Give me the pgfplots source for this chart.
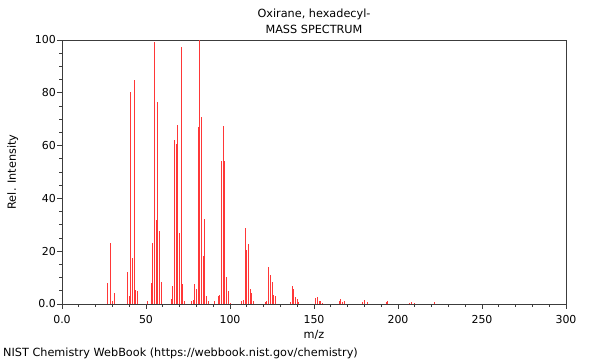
\documentclass[border=0pt]{standalone}
\usepackage{pgfplots}
\pgfplotsset{compat=1.18}
\usepackage{fontspec}
\setmainfont{DejaVu Sans}
\definecolor{peak}{RGB}{255,55,55}
\definecolor{axc}{RGB}{60,60,60}
\begin{document}
\begin{tikzpicture}
\fontsize{11.3}{13.5}\selectfont
\path[use as bounding box] (-62bp,-56bp) rectangle (538bp,304bp);
\begin{axis}[
  at={(0,0)}, anchor=south west,
  width=504bp, height=264bp, scale only axis,
  xmin=0, xmax=300, ymin=0, ymax=100,
  xtick={0,50,100,150,200,250,300},
  xticklabels={0.0,50,100,150,200,250,300},
  ytick={0,20,40,60,80,100},
  yticklabels={0.0,20,40,60,80,100},
  minor x tick num=4, minor y tick num=3,
  tick align=outside,
  major tick length=4.5bp, minor tick length=2.5bp,
  axis line style={axc, line width=0.8bp},
  every tick/.style={axc, line width=0.8bp},
  xtick pos=bottom, ytick pos=left,
  /pgf/number format/assume math mode=true,
  tick label style={font=\fontsize{11}{13}\selectfont, text=black},
  xticklabel style={inner sep=0pt, anchor=north, yshift=-7bp},
  yticklabel style={inner sep=0pt, anchor=east, xshift=-1.5bp},
  clip=false,
]
\addplot[ycomb, draw=peak, line width=1bp, mark=none] table {
x y
27 8
29 23
30 1
31 4
39 12
40 3
41 80.4
42 17.5
43 84.8
44 5.3
45 5
51 1
53 8
54 23
55 99.4
56 32
57 76.4
58 27.6
59 8.5
65 2
66 7
67 62
68 60.7
69 67.8
70 26.8
71 97.5
72 7.4
73 1
77 1
78 1.5
79 7.4
80 5.7
81 67.2
82 100
83 70.7
84 18
85 32.2
86 3
87 1
91 1
93 3
94 3.5
95 54.2
96 67.4
97 54.2
98 10.4
99 4.9
100 0.5
107 1
108 1.5
109 28.9
110 20.4
111 22.6
112 5.7
113 4.3
114 1
121 0.7
122 1
123 14.1
124 11
125 8.5
126 3.5
127 3
136 0.7
137 6.8
138 5.7
139 2.5
140 1.8
141 0.7
151 2.1
152 2.8
153 1
154 1
155 0.5
165 1
166 2
167 0.8
168 1
179 0.8
180 1.4
182 0.8
193 0.8
194 1
207 0.5
208 0.9
210 0.5
222 0.6
};
\end{axis}
\node[anchor=base] at (252bp,286bp) {Oxirane, hexadecyl-};
\node[anchor=base] at (252bp,270bp) {MASS SPECTRUM};
\node[anchor=base] at (252bp,-34bp) {m/z};
\node[anchor=base, rotate=90] at (-46bp,132bp) {Rel. Intensity};
\node[anchor=base west, inner sep=0pt] at (-59bp,-52.7bp) {NIST Chemistry WebBook (https://webbook.nist.gov/chemistry)};
\end{tikzpicture}
\end{document}
